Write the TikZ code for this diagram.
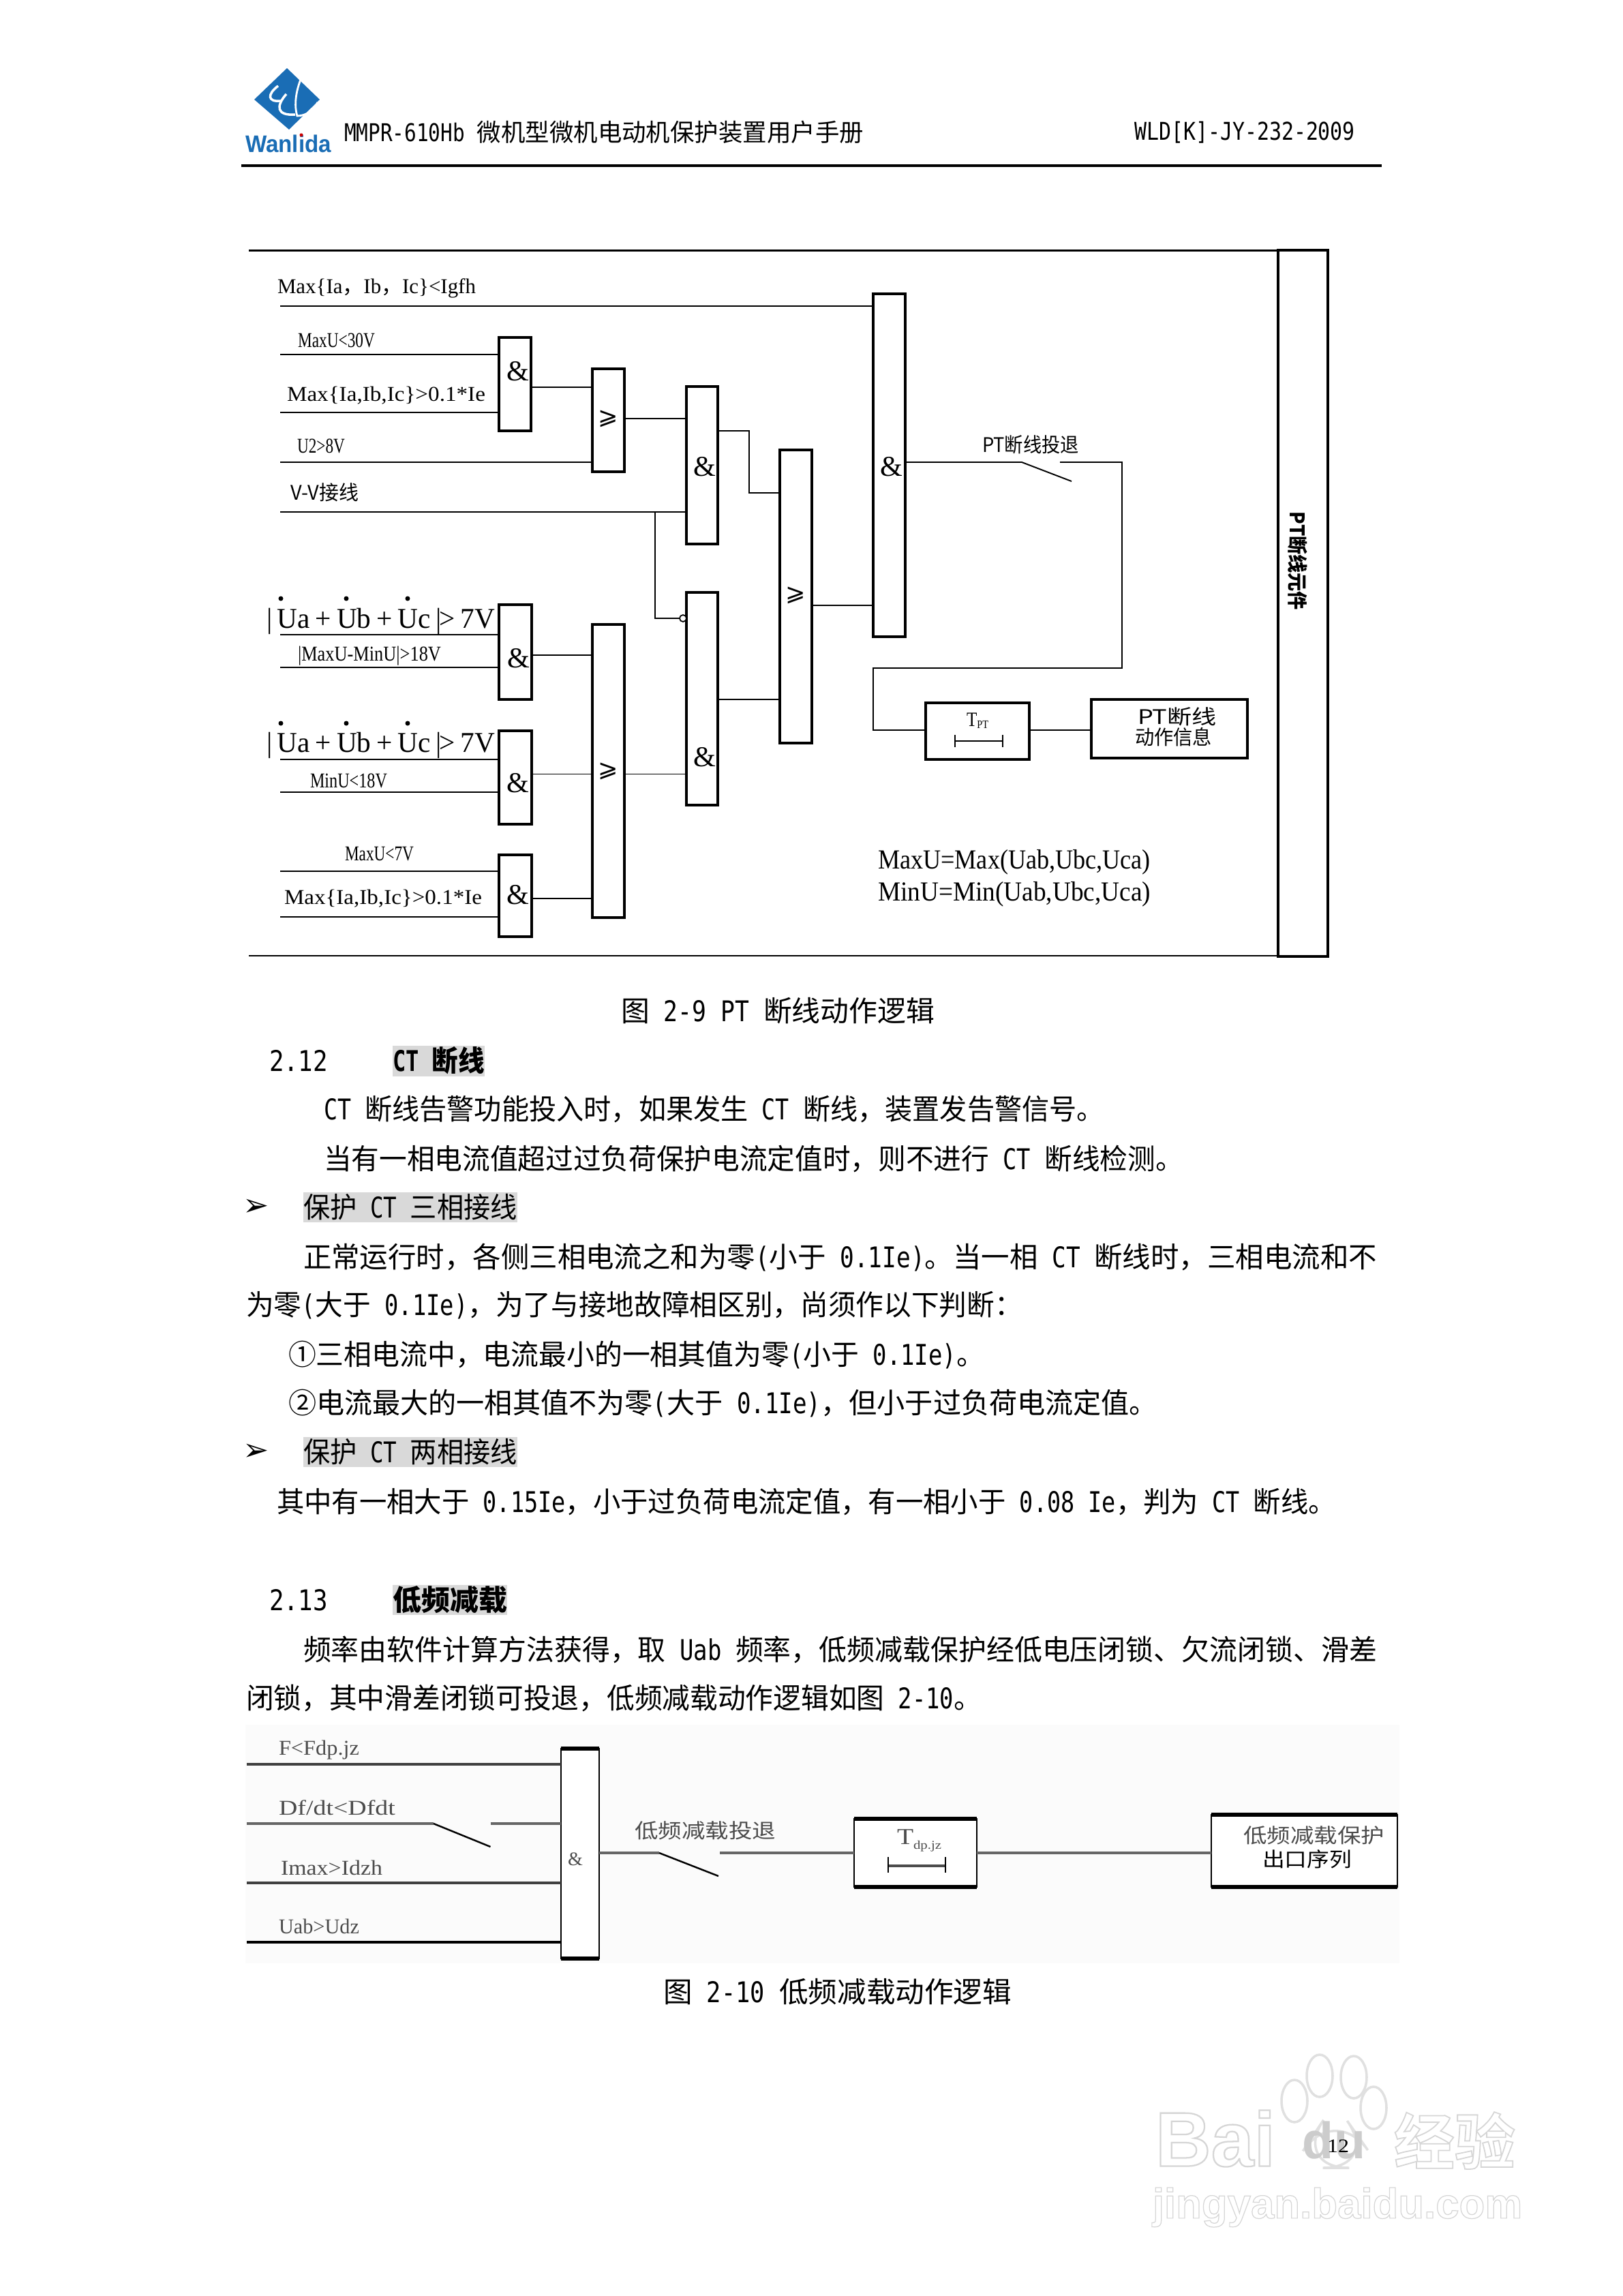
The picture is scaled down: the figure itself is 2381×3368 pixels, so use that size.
\documentclass[tikz,border=0pt]{standalone}
\usepackage{fontspec}
\usepackage{graphicx}
\setmainfont{Liberation Serif}
\newfontfamily\cjk{Noto Sans CJK SC}
\newfontfamily\lgf{Liberation Sans}[BoldFont={Liberation Sans Bold}]
\newfontfamily\sym{DejaVu Sans}
\newfontfamily\ltn{DejaVu Sans Mono}[FakeStretch=0.83]
\newfontfamily\wmf{Liberation Sans Bold}[FakeBold=2]
\newfontfamily\wmc{Noto Sans CJK SC Bold}[FakeBold=2]
\newcommand\lt[1]{{\ltn #1}}
\newcommand\bd{\cjk\fontsize{11.9}{14}\selectfont}
\newcommand\hd{\cjk\fontsize{10.2}{12}\selectfont}
\newcommand\sm{\cjk\fontsize{8.4}{10}\selectfont}
\newcommand\se{\fontsize{8.8}{10}\selectfont}
\newcommand\wmt{\color{white}\special{pdf:code 0.84 G}}
\newcommand\lab[5]{\node[anchor=west,inner sep=0pt,outer sep=0pt] (#1) at (#2,#3) {\resizebox{\dimexpr 0.01cm*\numexpr#4-#2\relax\relax}{\height}{#5}};}
\newcommand\gate[5]{\node[gatebox,minimum width=(#4-#2)*0.01cm,minimum height=(#5-#3)*0.01cm] (#1) at ({(#2+#4)/2},{(#3+#5)/2}) {};}
\newcommand\amp[3]{\node[inner sep=0pt] (#1) at (#2,#3) {\fontsize{12}{14}\selectfont\&};}
\newcommand\gor[3]{\node[inner sep=0pt] (#1) at (#2,#3) {\sym\fontsize{10}{12}\selectfont ⩾};}
\newcommand\gp{\hspace{2.3pt}}
\newcommand\volt[3]{\lab{#1}{391}{#2}{726}{\fontsize{12}{14}\selectfont |\hspace{2.2pt}Ua\gp+\gp Ub\gp+\gp Uc\gp|\hspace{-1.1pt}>\gp 7V}
  \fill (412,#3) circle (3.5) (508,#3) circle (3.5) (598,#3) circle (3.5);}
\definecolor{hl}{HTML}{D9D9D9}
\definecolor{lblue}{HTML}{1A6DB5}
\definecolor{blr}{HTML}{666666}
\begin{document}
\begin{tikzpicture}[x=0.01cm,y=-0.01cm,
  gatebox/.style={draw=black,fill=white,line width=1pt,inner sep=0pt,outer sep=0pt,rectangle},
  wire/.style={line width=0.55pt,draw=black},
  thinw/.style={line width=0.45pt,draw=black},
  fr/.style={line width=0.6pt,draw=black},
  bwire/.style={line width=1.4pt,draw=blr},
  bbox/.style={draw=black,fill=white,line width=0.7pt,inner sep=0pt,outer sep=0pt,rectangle},
  bbar/.style={line width=1.5pt,draw=black}]
\useasboundingbox (0,0) rectangle (2381,3368);
\fill[white] (0,0) rectangle (2381,3368);
% ---------- watermark
\node[inner sep=0pt] (wmBai) at (1783,3137) {\resizebox{1.76cm}{!}{\wmt\wmf Bai}};
\foreach \xa/\ya in {1899/3082,1936/3045,1986/3047,2015/3092}
  \draw[black!12,line width=1pt,fill=white] (\xa,\ya) ellipse (19 and 31);
\draw[black!12,line width=1pt,fill=white,rounded corners=24pt] (1958,3085) -- (2025,3180) -- (1895,3180) -- cycle;
\node[inner sep=0pt,text=black!20] (wmdu) at (1957,3140) {\resizebox{0.92cm}{!}{\lgf\bfseries du}};
\node[inner sep=0pt] (wmjy) at (2134,3140) {\resizebox{1.78cm}{!}{\wmt\wmc 经验}};
\node[inner sep=0pt] (wmurl) at (1962,3238) {\resizebox{5.42cm}{!}{\wmt\wmf jingyan.baidu.com}};
% ---------- header
\fill[lblue] (421,100) -- (469,146) -- (424,190) -- (373,146) -- cycle;
\draw[white,line width=1pt] (408,126) .. controls (392,138) and (392,150) .. (412,148);
\draw[white,line width=1pt] (420,138) .. controls (405,155) and (405,170) .. (433,168);
\draw[white,line width=0.8pt] (447,103) .. controls (436,125) and (430,150) .. (436,170) .. controls (450,170) and (462,160) .. (466,150);
\lab{logo}{360}{211}{486}{\color{lblue}\lgf\bfseries\fontsize{10}{11}\selectfont Wanlida}
\fill[red!80!black] (442,198) circle (2.5);
\lab{title}{505}{194}{1267}{\hd \lt{MMPR-610Hb }微机型微机电动机保护装置用户手册}
\lab{docno}{1664}{194}{1988}{\hd\lt{WLD[K]-JY-232-2009}}
\coordinate (hl) at (354,243); \coordinate (hr) at (2027,243);
\draw[line width=0.9pt] (hl) -- (hr);
% ---------- figure 2-9 frame
\gate{ptbox}{1875}{367}{1948}{1403}
\coordinate (ftl) at (365,367.5); \coordinate (fbl) at (365,1402);
\draw[fr] (ftl) -- (ftl -| ptbox.west);
\draw[fr] (fbl) -- (fbl -| ptbox.west);
\node[rotate=-90,inner sep=0pt] (ptel) at (1904,823) {\resizebox{1.44cm}{\height}{\sm\bfseries PT断线元件}};
% gates
\gate{aA}{1281}{431}{1328}{934}
\gate{aB}{732}{495}{779}{632}
\gate{oA}{869}{541}{916}{692}
\gate{aC}{1007}{567}{1053}{798}
\gate{oB}{1144}{660}{1191}{1090}
\gate{aD}{1007}{869}{1053}{1181}
\gate{oC}{869}{916}{916}{1346}
\gate{aE}{732}{887}{780}{1026}
\gate{aF}{732}{1072}{780}{1209}
\gate{aG}{732}{1254}{780}{1374}
\amp{sA}{1308}{685}\amp{sB}{760}{545}\amp{sC}{1034}{685}\amp{sD}{1034}{1111}\amp{sE}{761}{966}\amp{sF}{760}{1149}\amp{sG}{760}{1313}
\gor{gA}{892}{614}\gor{gB}{1167}{873}\gor{gC}{892}{1131}
% inputs
\foreach \n/\yy in {iA/449,iB/520,iC/605,iD/678,iE/751,iF/931,iG/979,iH/1114,iI/1162,iJ/1278,iK/1345}
  \coordinate (\n) at (411,\yy);
\draw[line width=0.7pt] (iA) -- (iA -| aA.west);
\draw[wire] (iB) -- (iB -| aB.west);
\draw[wire] (iC) -- (iC -| aB.west);
\draw[wire] (iD) -- (iD -| oA.west);
\draw[wire] (iE) -- (iE -| aC.west);
\draw[wire] (iF) -- (iF -| aE.west);
\draw[wire] (iG) -- (iG -| aE.west);
\draw[wire] (iH) -- (iH -| aF.west);
\draw[wire] (iI) -- (iI -| aF.west);
\draw[wire] (iJ) -- (iJ -| aG.west);
\draw[wire] (iK) -- (iK -| aG.west);
% internal
\coordinate (yAB) at (0,568); \coordinate (yOC) at (0,614); \coordinate (yCo) at (0,632);
\coordinate (yCi) at (0,723); \coordinate (yOB) at (0,888); \coordinate (yDo) at (0,1026);
\coordinate (yOD) at (0,1135.5); \coordinate (yEo) at (0,961); \coordinate (yGo) at (0,1318);
\coordinate (xb) at (1099,0); \coordinate (xn) at (961,0);
\draw[wire] (yAB -| aB.east) -- (yAB -| oA.west);
\draw[wire] (yOC -| oA.east) -- (yOC -| aC.west);
\draw[wire] (yCo -| aC.east) -- (yCo -| xb) -- (yCi -| xb) -- (yCi -| oB.west);
\draw[wire] (yOB -| oB.east) -- (yOB -| aA.west);
\draw[wire] (yDo -| aD.east) -- (yDo -| oB.west);
\draw[wire] (yOD -| oC.east) -- (yOD -| aD.west);
\draw[wire] (yEo -| aE.east) -- (yEo -| oC.west);
\draw[wire] (yOD -| aF.east) -- (yOD -| oC.west);
\draw[wire] (yGo -| aG.east) -- (yGo -| oC.west);
\node[circle,draw=black,fill=white,line width=0.5pt,minimum size=0.1cm,inner sep=0pt,outer sep=0pt] (bub) at (1002,907) {};
\draw[wire] (iE -| xn) -- (bub -| xn) -- (bub.west);
% switch, timer
\gate{tpt}{1358}{1031}{1510}{1114}
\gate{msg}{1601}{1026}{1830}{1112}
\coordinate (swa) at (1499,678); \coordinate (swb) at (1572,706); \coordinate (swc) at (1555,678);
\coordinate (xr) at (1646,0); \coordinate (yr) at (0,980); \coordinate (yt) at (0,1071);
\draw[wire] (swa -| aA.east) -- (swa) -- (swb);
\draw[wire] (swc) -- (swc -| xr) -- (yr -| xr) -- (yr -| aA.west) -- (yt -| aA.west) -- (yt -| tpt.west);
\draw[wire] (yt -| tpt.east) -- (yt -| msg.west);
\coordinate (tbl) at (1401,1087); \coordinate (tbr) at (1471,1087);
\draw[thinw] (tbl) -- (tbr);
\draw[thinw] (1401,1078) -- (1401,1096);
\draw[thinw] (1471,1078) -- (1471,1096);
\lab{tptt}{1418}{1057}{1450}{\fontsize{8.5}{10}\selectfont T\raisebox{-1pt}{\fontsize{4.8}{5}\selectfont PT}}
\lab{swl}{1441}{652}{1583}{\sm PT断线投退}
\lab{msga}{1669}{1051}{1785}{\sm PT断线}
\lab{msgb}{1665}{1081}{1778}{\sm 动作信息}
% labels
\lab{la}{407}{423}{698}{\se Max\{Ia{\cjk ，}Ib{\cjk ，}Ic\}<Igfh}
\lab{lb}{437}{499}{550}{\se MaxU<30V}
\lab{lc}{421}{580}{712}{\se Max\{Ia,Ib,Ic\}>0.1*Ie}
\lab{ld}{436}{654}{506}{\se U2>8V}
\lab{le}{426}{722}{526}{\sm V-V接线}
\volt{vA}{911}{878}
\lab{lf}{437}{962}{647}{\se |MaxU-MinU|>18V}
\volt{vB}{1093}{1061}
\lab{lg}{455}{1145}{568}{\se MinU<18V}
\lab{lh}{506}{1253}{607}{\se MaxU<7V}
\lab{li}{417}{1318}{707}{\se Max\{Ia,Ib,Ic\}>0.1*Ie}
\lab{ma}{1288}{1265}{1688}{\fontsize{11.5}{13}\selectfont MaxU=Max(Uab,Ubc,Uca)}
\lab{mb}{1288}{1312}{1688}{\fontsize{11.5}{13}\selectfont MinU=Min(Uab,Ubc,Uca)}
% ---------- body
\lab{capA}{911}{1483}{1371}{\bd 图\lt{ 2-9   PT }断线动作逻辑}
\fill[hl] (576,1534) rectangle (711,1579);
\fill[hl] (445,1749) rectangle (759,1793);
\fill[hl] (445,2108) rectangle (759,2152);
\fill[hl] (576,2325) rectangle (744,2369);
\lab{sa}{395}{1556}{481}{\bd\lt{2.12}}
\lab{sb}{576}{1556}{711}{\bd\bfseries\lt{CT }断线}
\lab{pa}{475}{1627}{1620}{\bd\lt{CT }断线告警功能投入时，如果发生\lt{ CT }断线，装置发告警信号。}
\lab{pb}{475}{1700}{1736}{\bd 当有一相电流值超过过负荷保护电流定值时，则不进行\lt{ CT }断线检测。}
\node[inner sep=0pt] (bua) at (376,1771) {\sym\fontsize{13}{15}\selectfont ➢};
\lab{pc}{445}{1771}{759}{\bd 保护\lt{ CT }三相接线}
\lab{pd}{445}{1844}{2020}{\bd 正常运行时，各侧三相电流之和为零\lt{(}小于\lt{ 0.1Ie)}。当一相\lt{ CT }断线时，三相电流和不}
\lab{pe}{361}{1915}{1500}{\bd 为零\lt{(}大于\lt{ 0.1Ie)}，为了与接地故障相区别，尚须作以下判断：}
\lab{pf}{423}{1988}{1444}{\bd ①三相电流中，电流最小的一相其值为零\lt{(}小于\lt{ 0.1Ie)}。}
\lab{pg}{423}{2059}{1698}{\bd ②电流最大的一相其值不为零\lt{(}大于\lt{ 0.1Ie)}，但小于过负荷电流定值。}
\node[inner sep=0pt] (bub2) at (376,2130) {\sym\fontsize{13}{15}\selectfont ➢};
\lab{ph}{445}{2130}{759}{\bd 保护\lt{ CT }两相接线}
\lab{pi}{406}{2203}{1960}{\bd 其中有一相大于\lt{ 0.15Ie}，小于过负荷电流定值，有一相小于\lt{ 0.08 Ie}，判为\lt{ CT }断线。}
\lab{sc}{395}{2347}{481}{\bd\lt{2.13}}
\lab{sd}{576}{2347}{744}{\bd\bfseries 低频减载}
\lab{pj}{445}{2420}{2020}{\bd 频率由软件计算方法获得，取\lt{ Uab }频率，低频减载保护经低电压闭锁、欠流闭锁、滑差}
\lab{pk}{361}{2491}{1440}{\bd 闭锁，其中滑差闭锁可投退，低频减载动作逻辑如图\lt{ 2-10}。}
% ---------- figure 2-10
\fill[black!1.5] (360,2530) rectangle (2053,2880);
\node[bbox,minimum width=0.56cm,minimum height=3.08cm] (bA) at (851,2719) {};
\node[bbox,minimum width=1.8cm,minimum height=1cm] (bT) at (1343,2718) {};
\node[bbox,minimum width=2.73cm,minimum height=1.06cm] (bO) at (1913.5,2715) {};
\foreach \b in {bA,bT,bO}{
  \draw[bbar] (\b.north west) -- (\b.north east);
  \draw[bbar] (\b.south west) -- (\b.south east);}
\foreach \n/\yy in {jA/2588,jB/2675,jC/2762,jD/2849} \coordinate (\n) at (362,\yy);
\coordinate (jsa) at (636,2675); \coordinate (jsb) at (719.5,2709); \coordinate (jsc) at (719.5,2675);
\draw[line width=1.3pt,draw=black!75] (jA) -- (jA -| bA.west);
\draw[bwire] (jB) -- (jsa);
\draw[line width=0.7pt] (jsa) -- (jsb);
\draw[bwire] (jsc) -- (jsc -| bA.west);
\draw[line width=1.3pt,draw=black!75] (jC) -- (jC -| bA.west);
\draw[line width=1.2pt] (jD) -- (jD -| bA.west);
\coordinate (ksa) at (967,2718); \coordinate (ksb) at (1054,2752); \coordinate (ksc) at (1056,2718);
\draw[bwire] (ksa -| bA.east) -- (ksa);
\draw[line width=0.7pt] (ksa) -- (ksb);
\draw[bwire] (ksc) -- (ksc -| bT.west);
\draw[bwire] (ksc -| bT.east) -- (ksc -| bO.west);
\coordinate (tcl) at (1303,2737); \coordinate (tcr) at (1387,2737);
\draw[line width=1.3pt,draw=black!70] (tcl) -- (tcr);
\draw[thinw] (1303,2724) -- (1303,2747);
\draw[thinw] (1387,2724) -- (1387,2747);
\begin{scope}[text=black!70]
\lab{ja}{409}{2567}{527}{\se F<Fdp.jz}
\lab{jb}{409}{2652}{580}{\se Df/dt<Dfdt}
\lab{jc}{412}{2740}{561}{\se Imax>Idzh}
\lab{jd}{409}{2826}{527}{\se Uab>Udz}
\lab{je}{931}{2685}{1138}{\sm 低频减载投退}
\lab{jf}{1316}{2700}{1381}{\fontsize{9.5}{11}\selectfont T\raisebox{-2pt}{\fontsize{5}{6}\selectfont dp.jz}}
\lab{jg}{1824}{2692}{2031}{\sm 低频减载保护}
\end{scope}
\node[inner sep=0pt,text=black!70] (jamp) at (844,2727) {\fontsize{8}{9}\selectfont\&};
\lab{jh}{1852}{2727}{1983}{\sm 出口序列}
\lab{capB}{973}{2922}{1484}{\bd 图\lt{ 2-10   }低频减载动作逻辑}
\lab{pgn}{1947}{3148}{1979}{\fontsize{8}{9}\selectfont 12}
\end{tikzpicture}
\end{document}
